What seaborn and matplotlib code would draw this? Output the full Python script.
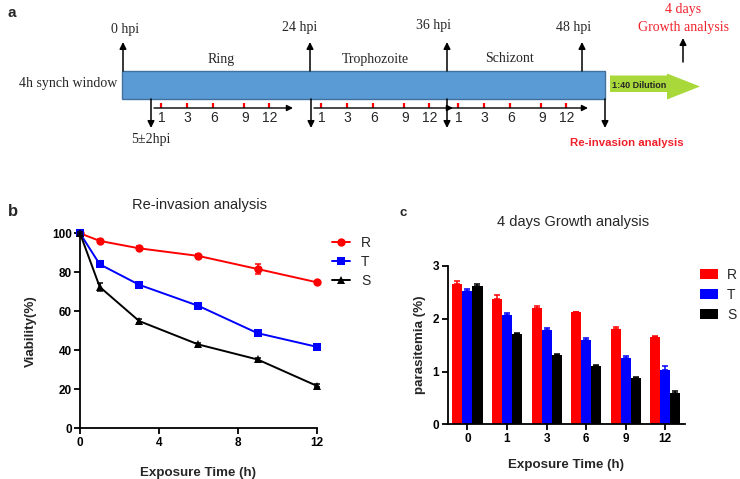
import numpy as np
import pandas as pd
import matplotlib
matplotlib.use("Agg")
import matplotlib.pyplot as plt
import seaborn as sns
from matplotlib.patches import Rectangle, Polygon

# ---- data ----
strains = ["R", "T", "S"]
strain_colors = ["#FF0000", "#0000FF", "#000000"]

times_b = [0, 1, 3, 6, 9, 12]
viab_R = [100, 96.1, 92.3, 88.4, 81.7, 74.9]
viab_T = [100, 84.1, 73.6, 62.8, 48.8, 41.8]
viab_S = [100, 72.5, 55.0, 43.0, 35.3, 21.8]
err_b_R = [0.5, 0.8, 1.0, 0.8, 2.6, 0.8]
err_b_T = [0.5, 0.8, 0.8, 0.8, 0.8, 0.8]
err_b_S = [0.5, 2.0, 0.8, 0.8, 0.8, 0.8]

times_c = ["0", "1", "3", "6", "9", "12"]
para_R = [2.66, 2.38, 2.20, 2.12, 1.81, 1.66]
para_T = [2.52, 2.07, 1.78, 1.59, 1.26, 1.02]
para_S = [2.62, 1.71, 1.32, 1.10, 0.88, 0.60]
err_c_R = [0.06, 0.07, 0.04, 0.01, 0.04, 0.02]
err_c_T = [0.04, 0.04, 0.05, 0.05, 0.03, 0.08]
err_c_S = [0.04, 0.02, 0.02, 0.02, 0.02, 0.03]

# schematic labels
hpi_labels = ["0 hpi", "24 hpi", "36 hpi", "48 hpi"]
stage_labels = ["Ring", "Trophozoite", "Schizont"]
exposure_hours = ["1", "3", "6", "9", "12"]

sns.set_theme(style="ticks")
plt.rcParams["font.family"] = ["Liberation Sans", "DejaVu Sans"]
SERIF = ["Liberation Serif", "DejaVu Serif"]

W, H = 740, 479
fig = plt.figure(figsize=(W / 100, H / 100), dpi=100)


def fx(x):
    return x / W


def fy(y):
    return 1 - y / H


# ================= panel a (schematic) =================
ax_a = fig.add_axes([0, 1 - 165 / H, 1, 165 / H])
ax_a.set_xlim(0, W)
ax_a.set_ylim(165, 0)
ax_a.axis("off")

ax_a.add_patch(Rectangle((122, 71), 483, 28, facecolor="#5B9BD5",
                         edgecolor="#41719C", lw=1.0, zorder=2))
ax_a.add_patch(Polygon([(610, 75.5), (667, 75.5), (667, 73.5), (700, 86.5),
                        (667, 99.5), (667, 92), (610, 92)], closed=True,
                       facecolor="#A8D83A", edgecolor="none", zorder=2))
ax_a.text(612, 86, "1:40 Dilution", fontsize=6.5, fontweight="bold",
          ha="left", va="center", zorder=3)

arrow_kw = dict(arrowstyle="-|>", color="black", lw=1.1, mutation_scale=10,
                shrinkA=0, shrinkB=0)

up_x = [123, 310, 447, 582]
hpi_x = [125, 300, 433, 574]
hpi_y = [29, 27, 26, 27]
for ux, lx, ly, lab in zip(up_x, hpi_x, hpi_y, hpi_labels):
    ax_a.annotate("", xy=(ux, 42), xytext=(ux, 71), arrowprops=arrow_kw)
    ax_a.text(lx, ly, lab, family=SERIF, fontsize=10, ha="center", va="center")

for sx, lab in zip([221, 375, 510], stage_labels):
    ax_a.text(sx, 59, lab, family=SERIF, fontsize=10, ha="center", va="center")

ax_a.text(117, 84, "4h synch window", family=SERIF, fontsize=10,
          ha="right", va="center")

for dx in [151, 311, 447, 605]:
    ax_a.annotate("", xy=(dx, 128), xytext=(dx, 99), arrowprops=arrow_kw)
ax_a.text(151, 140, "5±2hpi", family=SERIF, fontsize=10, ha="center", va="center")

# exposure timelines
seg_starts = [154, 314, 451]
seg_len = [139, 139, 137]
tick_off = [6.7, 32.7, 59.3, 90.3, 114.7]
for s0, sl in zip(seg_starts, seg_len):
    ax_a.annotate("", xy=(s0 + sl, 108), xytext=(s0, 108),
                  arrowprops=dict(arrowstyle="-|>", color="black", lw=1.0,
                                  mutation_scale=9, shrinkA=0, shrinkB=0))
    for off, hr in zip(tick_off, exposure_hours):
        ax_a.plot([s0 + off, s0 + off], [103, 108], color="red", lw=1.6,
                  solid_capstyle="butt")
        ax_a.text(s0 + off + 1, 117.5, hr, fontsize=10, ha="center", va="center")

ax_a.text(627, 143, "Re-invasion analysis", color="#F0202A", fontsize=8.2,
          fontweight="bold", ha="center", va="center")
ax_a.text(683, 9, "4 days", color="#F0202A", family=SERIF, fontsize=10,
          ha="center", va="center")
ax_a.text(683, 27, "Growth analysis", color="#F0202A", family=SERIF,
          fontsize=10, ha="center", va="center")
ax_a.annotate("", xy=(683, 38), xytext=(683, 62), arrowprops=arrow_kw)
fig.text(fx(8), fy(13), "a", fontsize=11, fontweight="bold", va="center")

# ================= panel b (line plot) =================
ax_b = fig.add_axes([fx(80), fy(428.3), 236.7 / W, 195 / H])
df_b = pd.DataFrame({
    "time": times_b * 3,
    "viab": viab_R + viab_T + viab_S,
    "strain": ["R"] * 6 + ["T"] * 6 + ["S"] * 6,
})
sns.lineplot(data=df_b, x="time", y="viab", hue="strain", style="strain",
             hue_order=strains, style_order=strains,
             palette=dict(zip(strains, strain_colors)),
             markers={"R": "o", "T": "s", "S": "^"}, dashes=False,
             errorbar=None, linewidth=1.4, markersize=6, markeredgewidth=0,
             clip_on=False, ax=ax_b)
for vals, errs, col in zip([viab_R, viab_T, viab_S],
                           [err_b_R, err_b_T, err_b_S], strain_colors):
    ax_b.errorbar(times_b, vals, yerr=errs, fmt="none", ecolor=col,
                  elinewidth=1.1, capsize=2.5, capthick=1.1, clip_on=False)

ax_b.set_xlim(0, 12)
ax_b.set_ylim(0, 100)
ax_b.set_xticks([0, 4, 8, 12])
ax_b.set_yticks([0, 20, 40, 60, 80, 100])
ax_b.set_xlabel("Exposure Time (h)", fontsize=9.6, fontweight="bold", labelpad=13)
ax_b.set_ylabel("Viability(%)", fontsize=9.6, fontweight="bold", labelpad=11)
fig.text(fx(200), fy(205), "Re-invasion analysis", fontsize=10.5,
         ha="center", va="center")
fig.text(fx(8), fy(212), "b", fontsize=12, fontweight="bold", va="center")

handles, labels = ax_b.get_legend_handles_labels()
ax_b.legend(handles, labels, loc="center left",
            bbox_to_anchor=((332 - 80) / 236.7, (428.3 - 262) / 195),
            frameon=False, fontsize=10, handlelength=1.3, handletextpad=0.8,
            labelspacing=0.38, borderaxespad=0, borderpad=0)

# ================= panel c (bar plot) =================
ax_c = fig.add_axes([fx(447.7), fy(424.3), 237.3 / W, 158.3 / H])
df_c = pd.DataFrame({
    "time": times_c * 3,
    "para": para_R + para_T + para_S,
    "strain": ["R"] * 6 + ["T"] * 6 + ["S"] * 6,
})
sns.barplot(data=df_c, x="time", y="para", hue="strain", order=times_c,
            hue_order=strains, palette=dict(zip(strains, strain_colors)),
            errorbar=None, width=0.76, saturation=1, linewidth=0, ax=ax_c)
for cont, errs, col in zip(ax_c.containers, [err_c_R, err_c_T, err_c_S],
                           strain_colors):
    xs = [b.get_x() + b.get_width() / 2 for b in cont]
    hs = [b.get_height() for b in cont]
    ax_c.errorbar(xs, hs, yerr=[[0] * len(errs), errs], fmt="none",
                  ecolor=col, elinewidth=1.1, capsize=2.5, capthick=1.1)

ax_c.set_xlim(-0.5, 5.5)
ax_c.set_ylim(0, 3)
ax_c.set_yticks([0, 1, 2, 3])
ax_c.set_xlabel("Exposure Time (h)", fontsize=9.6, fontweight="bold", labelpad=10)
ax_c.set_ylabel("parasitemia (%)", fontsize=9.6, fontweight="bold", labelpad=5)
fig.text(fx(573), fy(222), "4 days Growth analysis", fontsize=10.5,
         ha="center", va="center")
fig.text(fx(399), fy(213), "c", fontsize=9.5, fontweight="bold", va="center")

handles, labels = ax_c.get_legend_handles_labels()
ax_c.legend(handles, labels, loc="center left",
            bbox_to_anchor=((700 - 447.7) / 237.3, (424.3 - 295) / 158.3),
            frameon=False, fontsize=10, handlelength=1.3, handleheight=0.75,
            handletextpad=0.65, labelspacing=0.45, borderaxespad=0, borderpad=0)

for ax in (ax_b, ax_c):
    sns.despine(ax=ax)
    for sp in ("left", "bottom"):
        ax.spines[sp].set_linewidth(1.3)
        ax.spines[sp].set_color("black")
    ax.tick_params(direction="out", length=4, width=1.3, colors="black",
                   labelsize=8.5, pad=2)
    for t in ax.get_xticklabels() + ax.get_yticklabels():
        t.set_fontweight("bold")

fig.savefig("out.png", dpi=100)
